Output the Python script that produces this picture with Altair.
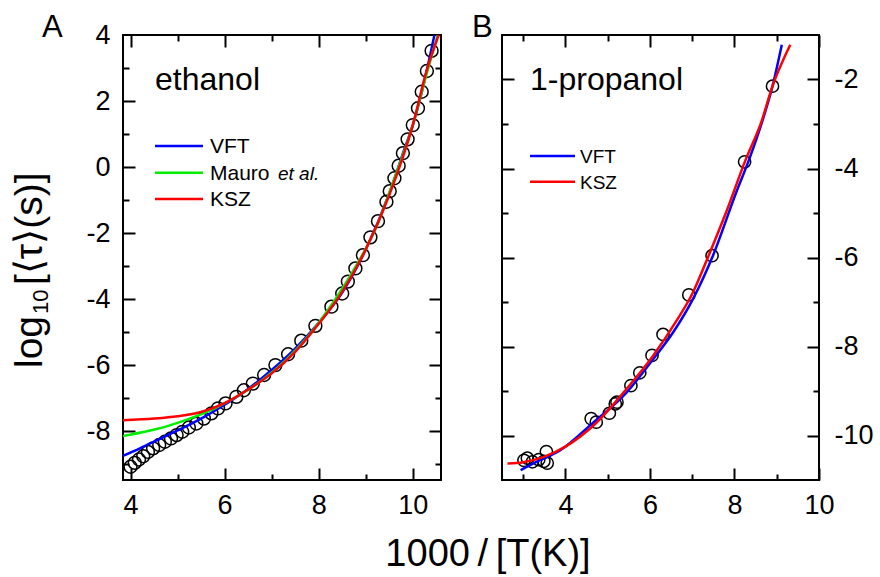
import altair as alt
import pandas as pd

FONT = "Liberation Sans"

# ---------------- Panel A : ethanol ----------------
eth_x = [4.00, 4.09, 4.18, 4.27, 4.37, 4.48, 4.61, 4.73, 4.86, 4.98,
         5.10, 5.24, 5.40, 5.56, 5.72, 5.86, 6.02, 6.25, 6.41, 6.60,
         6.84, 7.08, 7.35, 7.63, 7.93, 8.27, 8.50, 8.62, 8.78, 8.94,
         9.10, 9.26, 9.44, 9.51, 9.61, 9.70, 9.79, 9.89, 10.00, 10.11,
         10.19, 10.30, 10.40]
eth_y = [-9.08, -8.96, -8.86, -8.76, -8.63, -8.52, -8.42, -8.32, -8.22, -8.12,
         -8.02, -7.89, -7.77, -7.62, -7.46, -7.31, -7.16, -6.96, -6.76, -6.56,
         -6.30, -6.00, -5.67, -5.26, -4.81, -4.23, -3.83, -3.47, -3.07, -2.67,
         -2.13, -1.64, -1.05, -0.73, -0.34, 0.04, 0.42, 0.84, 1.27, 1.78,
         2.28, 2.91, 3.52]

vft_a_x = [3.84, 4.2, 4.6, 5.0, 5.5, 6.0, 6.5, 7.0, 7.5, 8.0, 8.5, 9.0, 9.5, 9.8, 10.0, 10.2, 10.46]
vft_a_y = [-8.75, -8.52, -8.25, -7.98, -7.62, -7.2, -6.72, -6.15, -5.5, -4.72, -3.8, -2.5, -0.8, 0.45, 1.27, 2.32, 4.0]

mauro_x = [3.84, 4.3, 4.8, 5.3, 5.8, 6.3, 6.8, 7.3, 7.8, 8.3, 8.8, 9.2, 9.6, 10.0, 10.3, 10.53]
mauro_y = [-8.15, -8.02, -7.84, -7.6, -7.3, -6.92, -6.45, -5.85, -5.08, -4.12, -2.98, -1.9, -0.38, 1.27, 2.85, 4.0]

ksz_a_x = [3.84, 4.5, 5.0, 5.5, 6.0, 6.5, 7.0, 7.5, 8.0, 8.5, 9.0, 9.5, 10.0, 10.3, 10.55]
ksz_a_y = [-7.67, -7.62, -7.55, -7.42, -7.15, -6.74, -6.25, -5.6, -4.75, -3.78, -2.5, -0.85, 1.27, 2.95, 4.0]

# ---------------- Panel B : 1-propanol ----------------
prop_x = [3.02, 3.10, 3.22, 3.37, 3.49, 3.55, 3.57, 4.61, 4.73, 5.04,
          5.18, 5.22, 5.55, 5.76, 6.05, 6.31, 6.92, 7.47, 8.24, 8.90]
prop_y = [-10.56, -10.51, -10.59, -10.54, -10.58, -10.36, -10.62, -9.62, -9.70, -9.50,
          -9.29, -9.25, -8.88, -8.59, -8.20, -7.73, -6.84, -5.96, -3.85, -2.15]

vft_b_x = [2.94, 3.3, 3.88, 4.67, 5.45, 6.08, 6.55, 7.02, 7.49, 8.04, 8.35, 8.67, 8.90, 9.12]
vft_b_y = [-10.78, -10.6, -10.33, -9.70, -9.03, -8.28, -7.68, -6.93, -5.96, -4.54, -3.79, -2.90, -2.15, -1.22]

ksz_b_x = [2.63, 3.0, 3.49, 4.0, 4.67, 5.45, 6.08, 6.63, 7.02, 7.37, 7.80, 8.27, 8.63, 8.90, 9.32]
ksz_b_y = [-10.63, -10.6, -10.48, -10.25, -9.77, -8.95, -8.20, -7.42, -6.78, -6.0, -4.99, -3.79, -2.97, -2.15, -1.22]

x_label_ticks = [4, 6, 8, 10]
a_y_label_ticks = [-8, -6, -4, -2, 0, 2, 4]
b_y_label_ticks = [-10, -8, -6, -4, -2]

BLUE, GREEN, RED = "#0000ff", "#00ee00", "#ff0000"
WA, WB, H = 318, 317, 445
HYPHEN_LABEL = "datum.value < 0 ? '-' + format(abs(datum.value), 'd') : format(datum.value, 'd')"


def tick_axis(orient, offset, values):
    return alt.Axis(orient=orient, offset=offset, values=values, labels=False, domain=False,
                    grid=False, title=None, ticks=True, tickColor="black", tickWidth=2,
                    tickSize={"condition": {"test": "datum.value % 2 === 0", "value": 12}, "value": 6})


def label_axis(orient, values, pad):
    return alt.Axis(orient=orient, values=values, ticks=False, domain=False, grid=False, title=None,
                    labelFont=FONT, labelFontSize=27, labelColor="black", labelPadding=pad,
                    labelFlush=False, labelOverlap=False, labelExpr=HYPHEN_LABEL)


def one():
    return pd.DataFrame({"k": [0]})


def text(t, x, y, size, align="left", baseline="alphabetic", angle=0, style="normal"):
    return alt.Chart(one()).mark_text(
        font=FONT, fontSize=size, align=align, baseline=baseline, angle=angle,
        fontStyle=style, color="black"
    ).encode(x=alt.value(x), y=alt.value(y), text=alt.value(t))


def legend_line(x1, x2, y, color):
    return alt.Chart(one()).mark_rule(color=color, strokeWidth=2.5).encode(
        x=alt.value(x1), x2=alt.value(x2), y=alt.value(y))


def curve(xs, ys, color, sx, sy, xaxis=None, yaxis=None):
    df = pd.DataFrame({"x": xs, "y": ys})
    return alt.Chart(df).mark_line(color=color, strokeWidth=2.5, interpolate="monotone", clip=True).encode(
        x=alt.X("x:Q", scale=sx, axis=xaxis), y=alt.Y("y:Q", scale=sy, axis=yaxis))


# ---- Panel A ----
sxA = alt.Scale(domain=[3.84, 10.6], nice=False, zero=False)
syA = alt.Scale(domain=[-9.48, 4.0], nice=False, zero=False)
xtA = list(range(4, 11))
ytA = list(range(-9, 4))

ptsA = alt.Chart(pd.DataFrame({"x": eth_x, "y": eth_y})).mark_point(
    shape="circle", filled=False, color="black", size=165, strokeWidth=1.5, opacity=1
).encode(
    x=alt.X("x:Q", scale=sxA, axis=label_axis("bottom", x_label_ticks, 12)),
    y=alt.Y("y:Q", scale=syA, axis=label_axis("left", a_y_label_ticks, 13)),
)

panelA = alt.layer(
    ptsA,
    curve(vft_a_x, vft_a_y, BLUE, sxA, syA, tick_axis("top", -H, xtA), tick_axis("right", -WA, ytA)),
    curve(mauro_x, mauro_y, GREEN, sxA, syA, tick_axis("bottom", -H, xtA), tick_axis("left", -WA, ytA)),
    curve(ksz_a_x, ksz_a_y, RED, sxA, syA),
    text("ethanol", 32, 55, 32),
    legend_line(32, 80, 111, BLUE),
    legend_line(32, 80, 137.7, GREEN),
    legend_line(32, 80, 164, RED),
    text("VFT", 87, 112, 21, baseline="middle"),
    text("Mauro", 87, 138.7, 21, baseline="middle"),
    text("et al.", 155, 138.7, 19, baseline="middle", style="italic"),
    text("KSZ", 87, 165, 21, baseline="middle"),
    text("A", -81, 2, 31),
    text("log", -81.3, 333, 39, angle=270),
    text("10", -75, 279, 22, angle=270),
    text("[\u27e8\u03c4\u27e9(s)]", -81.3, 250, 39, angle=270),
).resolve_axis(x="independent", y="independent").properties(width=WA, height=H)

# ---- Panel B ----
sxB = alt.Scale(domain=[2.5, 10.0], nice=False, zero=False)
syB = alt.Scale(domain=[-11.0, -1.0], nice=False, zero=False)
xtB = list(range(3, 11))
ytB = list(range(-10, -1))

ptsB = alt.Chart(pd.DataFrame({"x": prop_x, "y": prop_y})).mark_point(
    shape="circle", filled=False, color="black", size=150, strokeWidth=1.5, opacity=1
).encode(
    x=alt.X("x:Q", scale=sxB, axis=label_axis("bottom", x_label_ticks, 12)),
    y=alt.Y("y:Q", scale=syB, axis=label_axis("right", b_y_label_ticks, 15)),
)

panelB = alt.layer(
    ptsB,
    curve(vft_b_x, vft_b_y, BLUE, sxB, syB, tick_axis("top", -H, xtB), tick_axis("right", -WB, ytB)),
    curve(ksz_b_x, ksz_b_y, RED, sxB, syB, tick_axis("bottom", -H, xtB), tick_axis("left", -WB, ytB)),
    text("1-propanol", 28, 55, 32),
    legend_line(28, 73, 121, BLUE),
    legend_line(28, 73, 146.7, RED),
    text("VFT", 78, 122, 19, baseline="middle"),
    text("KSZ", 78, 147.7, 19, baseline="middle"),
    text("B", -30, 2, 31),
    text("1000\u2009/\u2009[T(K)]", -14, 531, 38, align="center"),
).resolve_axis(x="independent", y="independent").properties(width=WB, height=H)

chart = alt.hconcat(panelA, panelB, spacing=61, bounds="flush").properties(
    autosize=alt.AutoSizeParams(type="none"),
    padding={"left": 123, "top": 35, "right": 757, "bottom": 542},
    background="white",
).configure_view(stroke="black", strokeWidth=2)

chart.save("out.html", embed_options={"renderer": "svg", "actions": False})
